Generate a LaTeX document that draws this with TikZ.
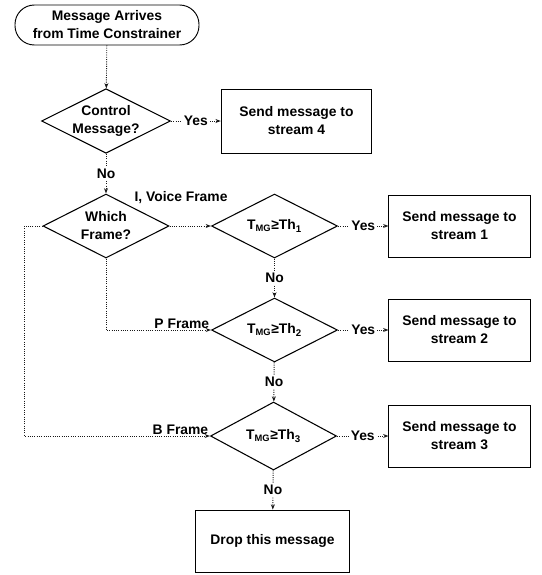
\documentclass[tikz,border=0pt]{standalone}
\usepackage{fontspec}
\setmainfont{Liberation Sans}
\usetikzlibrary{positioning,arrows.meta,calc,shapes.geometric}
\tikzset{
  >={Stealth[length=4pt,width=3pt]},
  termbox/.style={draw,rounded corners=14.5pt,minimum width=138pt,
    minimum height=30pt,inner sep=0pt,line width=0.7pt,align=center},
  decide/.style={draw,diamond,aspect=2,inner sep=0pt,minimum width=94.5pt,
    minimum height=48pt,line width=0.8pt,align=center},
  procbox/.style={draw,minimum width=106pt,minimum height=46.5pt,
    inner sep=2pt,line width=0.6pt,align=center},
  flow/.style={->,line width=0.7pt,black!90,densely dotted},
  flowlbl/.style={fill=white,inner sep=1.5pt,text=black},
  sidelbl/.style={inner sep=1pt,text=black},
}
\newcommand{\thr}[1]{T\textsubscript{\scriptsize MG}≥Th\textsubscript{#1}}

\begin{document}
\begin{tikzpicture}[x=0.75pt,y=-0.75pt,
  font=\bfseries\fontsize{10.4}{13.5}\selectfont]
  \useasboundingbox (0,0) rectangle (542,575);
  % nodes
  \node[termbox] (start) at (107,25) {Message Arrives\\from Time Constrainer};
  \node[decide] (ctrl) at (106,121) {Control\\Message?};
  \node[procbox,minimum width=113pt,minimum height=48pt] (s4) at (296.5,121)
    {Send message to\\stream 4};
  \node[decide] (which) at (106,226) {Which\\Frame?};
  \node[decide] (th1) at (274.5,226) {\thr{1}};
  \node[procbox] (s1) at (459.5,226) {Send message to\\stream 1};
  \node[decide] (th2) at (274.5,330) {\thr{2}};
  \node[procbox] (s2) at (459.5,330) {Send message to\\stream 2};
  \node[decide,minimum height=51pt] (th3) at (273.5,436) {\thr{3}};
  \node[procbox] (s3) at (459.5,436) {Send message to\\stream 3};
  \node[procbox,minimum width=116pt] (drop) at (272.5,541) {Drop this message};
  \node[sidelbl] (ivf) at (181,198) {I, Voice Frame};
  % connectors
  \draw[flow] (start) -- (ctrl);
  \draw[flow] (ctrl) -- node[flowlbl]{Yes} (s4);
  \draw[flow] (ctrl) -- node[flowlbl]{No} (which);
  \draw[flow] (which.east) -- (th1.west);
  \draw[flow] (which.south) |- node[sidelbl,pos=1,above left]{P Frame} (th2.west);
  \draw[flow] (which.west) -- ++(-18,0) |- node[sidelbl,pos=1,above left]{B Frame} (th3.west);
  \draw[flow] (th1) -- node[flowlbl]{Yes} (s1);
  \draw[flow] (th1) -- node[flowlbl]{No} (th2);
  \draw[flow] (th2) -- node[flowlbl]{Yes} (s2);
  \draw[flow] (th2) -- node[flowlbl]{No} (th3);
  \draw[flow] (th3) -- node[flowlbl]{Yes} (s3);
  \draw[flow] (th3) -- node[flowlbl]{No} (drop);
\end{tikzpicture}
\end{document}
